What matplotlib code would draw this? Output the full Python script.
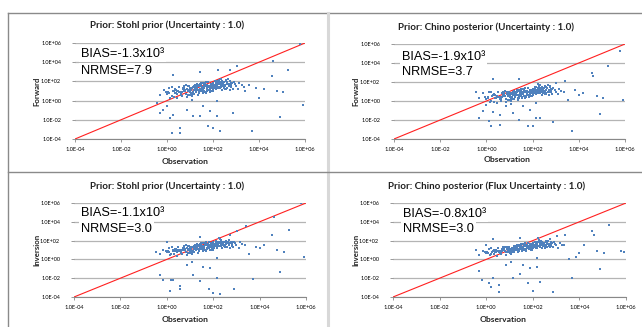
import numpy as np
import matplotlib
matplotlib.use("Agg")
import matplotlib.pyplot as plt
from matplotlib.lines import Line2D

# ---------------- data (log10 units) ----------------
obs_log = [
    -0.30, -0.15, 0.00, 0.10, 0.20, 0.30, 0.40, 0.50, 0.60, 0.70,
    0.80, 0.85, 0.90, 1.00, 1.05, 1.10, 1.20, 1.25, 1.30, 1.40,
    1.45, 1.50, 1.55, 1.60, 1.65, 1.70, 1.75, 1.80, 1.85, 1.90,
    1.95, 2.00, 2.05, 2.10, 2.15, 2.20, 2.25, 2.30, 2.35, 2.40,
    2.45, 2.50, 2.55, 2.60, 2.70, 2.80, 2.90, 3.00, 3.10, 3.25,
    0.35, 0.65, 0.95, 1.15, 1.35, 1.55, 1.72, 1.88, 2.08, 2.28,
    0.55, 0.75, 1.02, 1.22, 1.42, 1.62, 1.82, 2.02, 2.22, 2.42,
    0.45, 0.88, 1.12, 1.32, 1.52, 1.68, 1.92, 2.12, 2.32, 2.62,
    3.40, 3.55, 3.70, 3.85, 4.00, 4.20, 4.55, 4.62, 4.90, 5.06,
    5.28, 5.78, 5.93, 4.77, 3.03, 2.74, 2.23, 1.43, 0.28, -0.45,
    0.13, 0.20, 0.57, 0.57, 1.14, 1.43, 1.80, 2.00, 2.30, 2.88,
    2.16, 0.86, -0.16, -0.01, -0.30, 0.28, 1.58, 1.87, 1.07, 2.16,
    0.60, 0.98, 1.18, 1.38, 1.58, 1.78, 1.98, 2.18, 2.38, 2.52,
    0.25, 0.72, 1.08, 1.28, 1.48, 1.64, 1.84, 2.04, 2.26, 2.68,
    0.15, 0.42, 0.68, 0.92, 1.16, 1.36, 1.56, 1.76, 1.96, 2.16,
    2.36, 2.56, 2.76, 2.95, 0.05, 0.32, 0.58, 0.82, 1.06, 1.26,
    1.46, 1.66, 1.86, 2.06, 2.46, 2.66, 2.86, 3.15, 3.35, -0.05,
    0.38, 0.62, 0.78, 1.01, 1.24, 1.44, 1.64, 1.86, 2.06, 2.33,
    2.48, 2.58, 2.72, 2.84, 1.51, 1.71, 1.91, 2.11, 2.31, 2.01,
    1.34, 1.54, 1.74, 1.94, 2.14, 2.44, 0.48, 0.98, 1.18, 1.62,
    0.22, 0.52, 0.74, 0.96, 1.19, 1.39, 1.59, 1.79, 1.99, 2.19,
    2.39, 2.59, 2.79, 0.09, 0.44, 0.84, 1.09, 1.29, 1.49, 1.69,
    1.89, 2.09, 2.29, 2.49, 2.69, 0.66, 1.36, 1.56, 1.76, 1.96,
    2.12, 2.26, 2.54, 1.04, 1.21, 0.36, 0.92, 1.63, 2.34, 2.78,
]

fwd_stohl_log = [
    0.6, 1.1, 0.7, 1.3, 0.5, 1.0, 0.8, 1.4, 0.6, 1.2,
    1.0, 0.4, 1.5, 0.9, 1.2, 0.7, 1.6, 1.0, 1.3, 0.8,
    1.5, 1.1, 1.8, 1.3, 0.9, 1.6, 1.2, 1.9, 1.4, 1.7,
    1.3, 1.8, 1.5, 2.0, 1.2, 1.7, 1.4, 1.9, 1.6, 1.1,
    1.8, 1.5, 2.1, 1.3, 1.7, 1.4, 1.9, 1.5, 1.2, 1.6,
    1.2, 0.5, 1.1, 1.4, 0.6, 0.8, 1.0, 1.2, 1.3, 2.1,
    0.9, 1.3, 0.6, 1.1, 1.7, 1.0, 1.5, 1.1, 1.9, 1.5,
    0.3, 1.2, 0.9, 1.7, 1.3, 1.9, 1.0, 1.6, 1.3, 1.9,
    1.0, 1.6, -3.2, 1.3, 0.3, 1.2, 2.6, 4.1, -1.7, 0.86,
    3.22, 5.93, -0.49, 0.97, 3.64, 3.15, 3.22, 2.94, 2.7, -0.25,
    -1.81, -3.37, -2.85, -3.37, -1.64, -1.64, -2.6, -2.85, -3.2, -1.3,
    -1.64, -0.94, -0.94, -0.6, -1.3, -1.47, -0.6, -1.1, 0.1, -0.08,
    0.7, 1.1, 1.5, 0.8, 1.2, 1.4, 1.0, 1.3, 1.8, 1.2,
    1.0, 1.5, 0.5, 1.1, 1.6, 1.8, 1.1, 1.4, 2.0, 1.5,
    0.3, 0.7, 1.3, 0.6, 1.1, 1.6, 0.9, 1.5, 1.0, 2.0,
    1.4, 1.2, 2.0, 1.7, 0.9, 0.4, 0.9, 1.6, 0.8, 1.4,
    1.0, 1.5, 0.9, 1.6, 1.3, 2.2, 1.2, 1.8, 1.4, 0.9,
    1.1, 0.7, 1.1, 1.3, 0.9, 1.2, 1.7, 1.5, 1.3, 1.5,
    1.4, 2.0, 1.1, 1.8, 1.4, 0.9, 1.7, 1.9, 1.8, 1.2,
    1.5, 1.2, 1.4, 1.6, 1.4, 1.7, 1.0, 1.3, 1.5, 1.8,
    1.4, 0.9, 1.0, 1.5, 0.7, 1.0, 1.3, 1.1, 1.7, 1.5,
    2.0, 1.7, 1.6, 0.8, 1.0, 0.7, 1.3, 1.5, 1.8, 0.8,
    1.3, 1.4, 1.7, 1.9, 1.5, 0.9, 1.1, 1.4, 1.6, 1.5,
    1.7, 1.3, 1.6, 1.1, 1.3, 0.8, 1.0, 1.6, 2.2, 1.8,
]

fwd_chino_log = [
    0.3, 0.8, 0.2, 0.9, 0.0, 0.6, 0.3, 1.0, 0.2, 0.7,
    0.5, -0.1, 1.0, 0.4, 0.7, 0.2, 1.1, 0.5, 0.8, 0.3,
    1.0, 0.6, 1.3, 0.8, 0.4, 1.1, 0.7, 1.4, 0.9, 1.2,
    0.8, 1.3, 1.0, 1.5, 0.7, 1.2, 0.9, 1.4, 1.1, 0.6,
    1.3, 1.0, 1.6, 0.8, 1.2, 0.9, 1.4, 1.0, 0.7, 1.1,
    0.7, 0.0, 0.6, 0.9, 0.1, 0.3, 0.5, 0.7, 0.8, 1.6,
    0.4, 0.8, 0.1, 0.6, 1.2, 0.5, 1.0, 0.6, 1.4, 1.0,
    -0.2, 0.7, 0.4, 1.2, 0.8, 1.4, 0.5, 1.1, 0.8, 1.4,
    2.07, 0.14, -3.19, 1.19, 0.67, 0.8, 2.95, 2.67, -1.33, 0.32,
    3.65, 5.23, 0.14, 0.56, 1.9, 1.6, 1.8, 2.32, 2.32, 1.0,
    -2.14, -2.67, -2.5, -1.5, -1.3, -2.0, -2.67, -2.6, -1.8, -2.25,
    -1.8, -0.56, -1.0, -0.4, -1.8, -1.2, -0.56, -0.9, -0.3, -0.2,
    0.2, 0.6, 1.0, 0.3, 0.7, 0.9, 0.5, 0.8, 1.3, 0.7,
    0.5, 1.0, 0.0, 0.6, 1.1, 1.3, 0.6, 0.9, 1.5, 1.0,
    -0.1, 0.3, 0.8, 0.1, 0.6, 1.1, 0.4, 1.0, 0.5, 1.5,
    0.9, 0.7, 1.5, 1.2, 0.4, -0.1, 0.4, 1.1, 0.3, 0.9,
    0.5, 1.0, 0.4, 1.1, 0.8, 1.7, 0.7, 1.3, 0.9, 0.4,
    0.6, 0.2, 0.6, 0.8, 0.4, 0.7, 1.2, 1.0, 0.8, 1.0,
    0.9, 1.5, 0.6, 1.3, 0.9, 0.4, 1.2, 1.4, 1.3, 0.7,
    1.0, 0.7, 0.9, 1.1, 0.9, 1.2, 0.5, 0.8, 1.0, 1.3,
    0.9, 0.4, 0.5, 1.0, 0.2, 0.5, 0.8, 0.6, 1.2, 1.0,
    1.5, 1.2, 1.1, 0.3, 0.5, 0.2, 0.8, 1.0, 1.3, 0.3,
    0.8, 0.9, 1.2, 1.4, 1.0, 0.4, 0.6, 0.9, 1.1, 1.0,
    1.2, 0.8, 1.1, 0.6, 0.8, 0.3, 0.5, 1.1, 1.7, 1.3,
]

inv_stohl_log = [
    0.6, 1.0, 0.8, 1.2, 0.6, 1.0, 0.9, 1.3, 0.7, 1.1,
    1.0, 0.5, 1.4, 0.9, 1.2, 0.8, 1.5, 1.0, 1.3, 0.9,
    1.4, 1.1, 1.7, 1.3, 1.0, 1.6, 1.2, 1.8, 1.4, 1.7,
    1.3, 1.8, 1.5, 2.0, 1.2, 1.7, 1.4, 1.9, 1.6, 1.2,
    1.8, 1.5, 2.0, 1.3, 1.7, 1.4, 1.8, 1.5, 1.2, 1.6,
    1.1, 0.6, 1.1, 1.3, 0.7, 0.9, 1.1, 1.3, 1.4, 2.2,
    0.9, 1.2, 0.7, 1.1, 1.6, 1.1, 1.5, 1.2, 1.9, 1.5,
    0.4, 1.2, 0.9, 1.6, 1.3, 1.8, 1.0, 1.6, 1.4, 1.9,
    3.54, 0.54, -2.06, 1.35, 1.2, 1.53, 2.58, 4.52, -1.29, 0.82,
    3.18, 6.0, 0.3, 1.0, 3.04, 2.6, 2.3, 2.4, 1.0, 0.75,
    -3.4, -2.17, -2.87, -3.2, -1.64, -2.34, -3.2, -3.58, -3.68, -3.12,
    -1.99, -0.58, -2.17, 1.81, -1.64, -2.17, -0.76, -0.94, -0.23, 0.1,
    0.8, 1.1, 1.4, 0.9, 1.2, 1.4, 1.0, 1.3, 1.8, 1.3,
    0.9, 1.4, 0.6, 1.1, 1.5, 1.7, 1.2, 1.4, 1.9, 1.5,
    0.5, 0.8, 1.2, 0.7, 1.1, 1.5, 1.0, 1.5, 1.1, 1.9,
    1.5, 1.3, 1.9, 1.7, 0.9, 0.6, 1.0, 1.5, 0.9, 1.4,
    1.1, 1.5, 1.0, 1.6, 1.4, 2.1, 1.3, 1.8, 1.5, 0.9,
    1.1, 0.8, 1.1, 1.2, 1.0, 1.3, 1.6, 1.5, 1.4, 1.6,
    1.5, 1.9, 1.2, 1.8, 1.4, 1.0, 1.7, 1.9, 1.8, 1.3,
    1.4, 1.3, 1.5, 1.6, 1.5, 1.7, 1.0, 1.3, 1.4, 1.7,
    1.3, 0.9, 1.0, 1.4, 0.8, 1.1, 1.3, 1.2, 1.7, 1.5,
    1.9, 1.7, 1.6, 0.8, 1.0, 0.8, 1.3, 1.5, 1.7, 0.9,
    1.4, 1.5, 1.7, 1.8, 1.5, 1.0, 1.1, 1.4, 1.6, 1.5,
    1.7, 1.4, 1.6, 1.1, 1.3, 0.9, 1.0, 1.6, 2.1, 1.7,
]

inv_chino_log = [
    0.5, 0.9, 0.7, 1.1, 0.6, 0.9, 0.8, 1.2, 0.7, 1.0,
    0.9, 0.5, 1.3, 0.9, 1.1, 0.8, 1.4, 1.0, 1.2, 0.9,
    1.3, 1.1, 1.6, 1.2, 1.0, 1.5, 1.2, 1.7, 1.3, 1.6,
    1.3, 1.7, 1.4, 1.9, 1.2, 1.6, 1.4, 1.8, 1.5, 1.2,
    1.7, 1.5, 2.0, 1.3, 1.6, 1.4, 1.8, 1.5, 1.2, 1.5,
    1.0, 0.6, 1.0, 1.2, 0.8, 0.9, 1.1, 1.3, 1.3, 2.1,
    0.8, 1.1, 0.7, 1.0, 1.5, 1.1, 1.4, 1.2, 1.8, 1.4,
    0.4, 1.1, 0.9, 1.5, 1.2, 1.7, 1.0, 1.5, 1.3, 1.8,
    2.57, 0.0, -2.02, 0.28, 0.73, 1.51, 3.0, 2.57, -1.03, 0.73,
    3.7, 0.9, 0.8, 0.88, 2.5, 2.2, 2.3, 2.3, 2.22, 1.0,
    -2.48, -2.9, -2.73, -3.5, -2.02, -1.5, -2.55, -3.36, -2.37, -3.43,
    -0.78, -0.6, -2.2, 1.51, -1.2, -2.02, -0.6, -0.89, -0.3, 0.2,
    0.7, 1.0, 1.3, 0.9, 1.1, 1.3, 1.0, 1.2, 1.7, 1.2,
    0.8, 1.3, 0.6, 1.0, 1.4, 1.6, 1.1, 1.3, 1.8, 1.4,
    0.5, 0.8, 1.1, 0.8, 1.0, 1.4, 1.0, 1.4, 1.1, 1.8,
    1.5, 1.4, 1.8, 1.6, 0.8, 0.6, 0.9, 1.3, 0.9, 1.3,
    1.1, 1.4, 1.1, 1.5, 1.4, 2.0, 1.3, 1.7, 1.5, 0.8,
    1.0, 0.8, 1.0, 1.1, 1.0, 1.2, 1.5, 1.4, 1.4, 1.6,
    1.5, 1.8, 1.3, 1.7, 1.3, 1.1, 1.6, 1.8, 1.7, 1.3,
    1.3, 1.2, 1.4, 1.5, 1.5, 1.6, 0.9, 1.2, 1.3, 1.6,
    1.2, 0.9, 1.0, 1.3, 0.8, 1.1, 1.2, 1.2, 1.6, 1.4,
    1.8, 1.6, 1.6, 0.7, 1.0, 0.8, 1.2, 1.4, 1.6, 0.9,
    1.4, 1.5, 1.6, 1.7, 1.5, 0.9, 1.1, 1.3, 1.5, 1.5,
    1.6, 1.4, 1.5, 1.0, 1.2, 0.8, 1.0, 1.5, 2.0, 1.7,
]

titles = [
    "Prior: Stohl prior (Uncertainty : 1.0)",
    "Prior: Chino posterior (Uncertainty : 1.0)",
    "Prior: Stohl prior (Uncertainty : 1.0)",
    "Prior: Chino posterior (Flux Uncertainty : 1.0)",
]
ylabels = ["Forward", "Forward", "Inversion", "Inversion"]
bias_text = ["BIAS=-1.3x10³", "BIAS=-1.9x10³", "BIAS=-1.1x10³", "BIAS=-0.8x10³"]
nrmse_text = ["NRMSE=7.9", "NRMSE=3.7", "NRMSE=3.0", "NRMSE=3.0"]
series = [fwd_stohl_log, fwd_chino_log, inv_stohl_log, inv_chino_log]
tick_exps = [-4, -2, 0, 2, 4, 6]
tick_labels = ["1.0E-04", "1.0E-02", "1.0E+00", "1.0E+02", "1.0E+04", "1.0E+06"]

# ---------------- layout ----------------
W, H = 642, 327
fig = plt.figure(figsize=(W / 100, H / 100), dpi=100)
fig.patch.set_facecolor("white")

def rect(x0, x1, y0, y1):
    return [x0 / W, 1 - y1 / H, (x1 - x0) / W, (y1 - y0) / H]

def fx(x):
    return x / W

def fy(y):
    return 1 - y / H

# panel frame lines
frame_col = "#8a8a8a"
fig.add_artist(Line2D([fx(8), fx(642)], [fy(12.5), fy(12.5)], color=frame_col, lw=1.0))
fig.add_artist(Line2D([fx(8), fx(8)], [fy(12.5), fy(327)], color=frame_col, lw=1.0))
fig.add_artist(Line2D([fx(328), fx(328)], [fy(12.5), fy(327)], color="#d8d8d8", lw=2.2))
fig.add_artist(Line2D([fx(8), fx(642)], [fy(172), fy(172)], color=frame_col, lw=1.0))

panels = [
    dict(ax=(75, 305, 43, 139), title=(167, 25), ylab=(37, 91), xlab=(185, 161), txt=(81, 54, 71)),
    dict(ax=(394, 625, 44, 139), title=(486, 27), ylab=(356, 91), xlab=(507, 160), txt=(402, 57, 72)),
    dict(ax=(74, 306, 203, 297), title=(167, 186), ylab=(37, 250), xlab=(185, 320), txt=(81, 213, 229)),
    dict(ax=(393, 626, 203, 297), title=(487, 186), ylab=(356, 250), xlab=(503, 319), txt=(403, 214, 229)),
]

label_font = "Lato"
obs = 10.0 ** np.array(obs_log)

for i, p in enumerate(panels):
    x0, x1, y0, y1 = p["ax"]
    ax = fig.add_axes(rect(x0, x1, y0, y1))
    ax.set_xscale("log")
    ax.set_yscale("log")
    ax.set_xlim(1e-4, 1e6)
    ax.set_ylim(1e-4, 1e6)
    ticks = [10.0 ** e for e in tick_exps]
    ax.set_xticks(ticks)
    ax.set_yticks(ticks)
    ax.set_xticklabels(tick_labels, fontsize=4.1, family=label_font)
    ax.set_yticklabels(tick_labels, fontsize=4.0, family=label_font)
    ax.xaxis.set_minor_locator(matplotlib.ticker.NullLocator())
    ax.yaxis.set_minor_locator(matplotlib.ticker.NullLocator())
    ax.tick_params(axis="x", length=2.5, width=0.6, color="#888888", pad=3)
    ax.tick_params(axis="y", length=2.5, width=0.6, color="#888888", pad=7.5)
    ax.grid(axis="y", color="#b4b4b4", lw=0.9)
    ax.grid(axis="x", visible=False)
    ax.set_axisbelow(True)
    for s in ["top", "right", "left"]:
        ax.spines[s].set_visible(False)
    ax.spines["bottom"].set_color("#888888")
    ax.spines["bottom"].set_linewidth(0.8)

    ax.plot([1e-4, 1e6], [1e-4, 1e6], color="#ff2020", lw=0.8, zorder=2)
    yv = 10.0 ** np.array(series[i])
    ax.scatter(obs, yv, s=2.0, marker="s", color="#4f81bd", linewidths=0, zorder=3)

    tx, ty1, ty2 = p["txt"]
    fig.text(fx(tx), fy(ty1), bias_text[i], fontsize=9.2, family="Liberation Sans",
             va="center", ha="left",
             bbox=dict(facecolor="white", edgecolor="none", pad=1.5))
    fig.text(fx(tx), fy(ty2), nrmse_text[i], fontsize=9.2, family="Liberation Sans",
             va="center", ha="left",
             bbox=dict(facecolor="white", edgecolor="none", pad=1.5))

    fig.text(fx(p["title"][0]), fy(p["title"][1]), titles[i], fontsize=7.1,
             fontweight="bold", family=label_font, ha="center", va="center", color="#222222")
    fig.text(fx(p["ylab"][0]), fy(p["ylab"][1]), ylabels[i], fontsize=5.6,
             fontweight="bold", family=label_font, ha="center", va="center",
             rotation=90, color="#222222")
    fig.text(fx(p["xlab"][0]), fy(p["xlab"][1]), "Observation", fontsize=6.1,
             fontweight="bold", family=label_font, ha="center", va="center", color="#222222")

fig.savefig("out.png", dpi=100)
